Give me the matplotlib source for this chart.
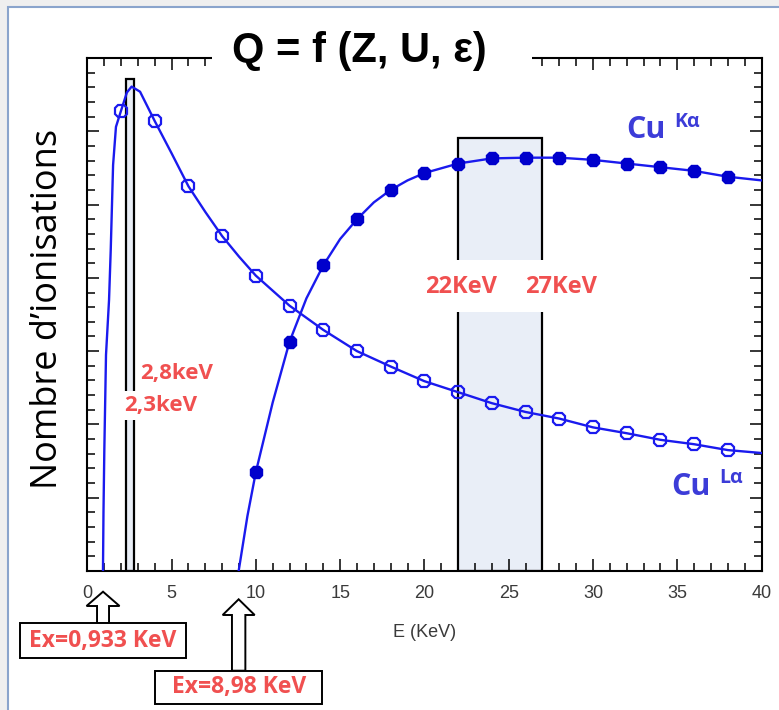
import matplotlib
matplotlib.use("Agg")
import matplotlib.pyplot as plt
from matplotlib.patches import Rectangle, Polygon
from matplotlib.ticker import MultipleLocator

# ---------------- data ----------------
la_marker_E = [2, 4, 6, 8, 10, 12, 14, 16, 18, 20, 22, 24, 26, 28, 30, 32, 34, 36, 38]
la_marker_Q = [6.28, 6.14, 5.25, 4.57, 4.03, 3.62, 3.29, 3.00, 2.79, 2.59, 2.44, 2.29,
               2.17, 2.08, 1.96, 1.88, 1.79, 1.73, 1.65]
la_curve_E = [0.93, 0.96, 1.01, 1.11, 1.29, 1.39, 1.53, 1.70, 2.0, 2.35, 2.63, 3.13, 4.0,
              5.0, 6.0, 7.0, 8.0, 9.0, 10, 12, 14, 16, 18, 20, 22, 24, 26, 28, 30, 32,
              34, 36, 38, 40]
la_curve_Q = [0.0, 0.8, 1.65, 2.95, 3.70, 4.38, 5.54, 6.06, 6.28, 6.53, 6.61, 6.54, 6.14,
              5.70, 5.25, 4.90, 4.57, 4.29, 4.03, 3.62, 3.29, 3.00, 2.79, 2.59, 2.44, 2.29,
              2.17, 2.08, 1.96, 1.88, 1.79, 1.73, 1.65, 1.61]

ka_marker_E = [10, 12, 14, 16, 18, 20, 22, 24, 26, 28, 30, 32, 34, 36, 38]
ka_marker_Q = [1.35, 3.13, 4.17, 4.80, 5.20, 5.43, 5.56, 5.63, 5.64, 5.64, 5.61, 5.56,
               5.51, 5.46, 5.38]
ka_curve_E = [8.98, 9.5, 10, 11, 12, 13, 14, 15, 16, 17, 18, 19, 20, 22, 24, 26, 28, 30,
              32, 34, 36, 38, 40]
ka_curve_Q = [0.0, 0.75, 1.35, 2.30, 3.13, 3.72, 4.17, 4.53, 4.80, 5.03, 5.20, 5.33, 5.43,
              5.56, 5.63, 5.64, 5.64, 5.61, 5.56, 5.51, 5.46, 5.38, 5.33]

band_L = (2.3, 2.8)
band_K = (22, 27)
ex_L = 0.933
ex_K = 8.98
x_ticks = [0, 5, 10, 15, 20, 25, 30, 35, 40]

# ---------------- figure ----------------
W, H = 779, 710
fig = plt.figure(figsize=(W / 100, H / 100), dpi=100, facecolor="#efefef")

def fx(px):
    return px / W

def fy(py):
    return 1 - py / H

# slide frame
fig.add_artist(Rectangle((fx(8), fy(760)), fx(800), (760 - 7) / H,
                         transform=fig.transFigure, facecolor="white",
                         edgecolor="#8aa4cc", lw=1.5, zorder=-10))

ax = fig.add_axes([fx(87.3), 1 - 571 / H, 674.2 / W, 513 / H])
ax.set_xlim(0, 40)
ax.set_ylim(0, 7)
ax.patch.set_alpha(0)

line_c = "#1a1aee"
mark_c = "#0000cc"
red = "#f05050"
cu_c = "#3c3cd8"

# shaded bands
ax.add_patch(Rectangle((band_L[0], 0), band_L[1] - band_L[0], 6.71, facecolor="#e9eef6",
                       edgecolor="black", lw=1.6, zorder=1))
ax.add_patch(Rectangle((band_K[0], 0), band_K[1] - band_K[0], 5.91, facecolor="#e9eef7",
                       edgecolor="black", lw=1.6, zorder=1))
# white strip behind the 22/27 KeV labels
ax.add_patch(Rectangle((band_K[0] - 0.3, 3.53), band_K[1] - band_K[0] + 0.6, 0.71,
                       facecolor="white", edgecolor="none", zorder=2))

# curves
ax.plot(la_curve_E, la_curve_Q, color=line_c, lw=1.7, zorder=3)
ax.plot(la_marker_E, la_marker_Q, ls="none", marker="8", ms=10, mfc="none",
        mec=line_c, mew=1.6, zorder=4)
ax.plot(ka_curve_E, ka_curve_Q, color=line_c, lw=1.7, zorder=3)
ax.plot(ka_marker_E, ka_marker_Q, ls="none", marker="8", ms=10, mfc=mark_c,
        mec=mark_c, mew=1.0, zorder=4)

# axes styling
for s in ax.spines.values():
    s.set_linewidth(1.5)
ax.set_xticks(x_ticks)
ax.set_xticklabels([str(t) for t in x_ticks], family="Liberation Sans", fontsize=13,
                   color="#3a3a3a")
ax.xaxis.set_minor_locator(MultipleLocator(1))
ax.yaxis.set_major_locator(MultipleLocator(1))
ax.yaxis.set_minor_locator(MultipleLocator(0.2))
ax.tick_params(which="both", direction="in", top=True, right=True, width=1.1,
               labelleft=False)
ax.tick_params(which="major", length=8.5, pad=10)
ax.tick_params(which="minor", length=5.5)
ax.set_xlabel("E (KeV)", family="Liberation Sans", fontsize=13, color="#3a3a3a",
              labelpad=16)

# band labels
lab_font = dict(family=["Open Sans", "DejaVu Sans"], fontweight="bold", color=red)
ax.text(band_L[1] + 0.35, 2.70, "2,8keV", fontsize=16, ha="left", va="center",
        zorder=6, bbox=dict(boxstyle="square,pad=0.12", fc="white", ec="none"), **lab_font)
ax.text(band_L[0] - 0.1, 2.26, "2,3keV", fontsize=16, ha="left", va="center",
        zorder=6, bbox=dict(boxstyle="square,pad=0.18", fc="white", ec="none"), **lab_font)
ax.text(band_K[0] + 0.2, 3.88, "22KeV", fontsize=17, ha="center", va="center",
        zorder=6, **lab_font)
ax.text(band_K[1] + 1.1, 3.88, "27KeV", fontsize=17, ha="center", va="center",
        zorder=6, **lab_font)

# Cu labels
cu_font = dict(family=["Open Sans", "DejaVu Sans"], fontweight="bold", color=cu_c)
fig.text(fx(626), fy(138), "Cu", fontsize=22, ha="left", va="baseline", **cu_font)
fig.text(fx(674), fy(127), "Kα", fontsize=14, ha="left", va="baseline", **cu_font)
fig.text(fx(671), fy(495), "Cu", fontsize=22, ha="left", va="baseline", **cu_font)
fig.text(fx(719), fy(483), "Lα", fontsize=14, ha="left", va="baseline", **cu_font)

# title with white gap over top spine
fig.add_artist(Rectangle((fx(212), fy(74)), fx(320), 48 / H, transform=fig.transFigure,
                         facecolor="white", edgecolor="none", zorder=5))
fig.text(fx(359), fy(51), "Q = f (Z, U, ε)", fontsize=30, fontweight="bold",
         family=["Liberation Sans", "DejaVu Sans"], ha="center", va="center", zorder=6)

# y label
fig.text(fx(48), fy(309), "Nombre d’ionisations", rotation=90, fontsize=26,
         family=["Open Sans", "DejaVu Sans"], ha="center", va="center", color="black")

# arrows + boxes pointing at excitation energies
def px_of(E):
    return ax.transData.transform((E, 0))[0]

def arrow_box(E, y_tip, y_head, y_box_top, y_box_bot, head_hw, shaft_hw, label):
    xc = px_of(E)
    pts = [(xc, y_tip), (xc + head_hw, y_head), (xc + shaft_hw, y_head),
           (xc + shaft_hw, y_box_top), (xc - shaft_hw, y_box_top),
           (xc - shaft_hw, y_head), (xc - head_hw, y_head)]
    fig.add_artist(Polygon([(fx(a), fy(b)) for a, b in pts], closed=True,
                           transform=fig.transFigure, facecolor="white",
                           edgecolor="black", lw=1.4, zorder=5))
    bw = 166.7
    fig.add_artist(Rectangle((fx(xc - bw / 2), fy(y_box_bot)), bw / W,
                             (y_box_bot - y_box_top) / H, transform=fig.transFigure,
                             facecolor="white", edgecolor="black", lw=1.4, zorder=5))
    fig.text(fx(xc), fy((y_box_top + y_box_bot) / 2), label, ha="center", va="center",
             fontsize=16.5, zorder=6, **lab_font)

arrow_box(ex_L, 591.7, 606, 623.3, 658.3, 16.5, 6, "Ex=0,933 KeV")
arrow_box(ex_K, 599.3, 615, 670.7, 704, 16, 6.7, "Ex=8,98 KeV")

fig.savefig("out.png", dpi=100, facecolor=fig.get_facecolor())
